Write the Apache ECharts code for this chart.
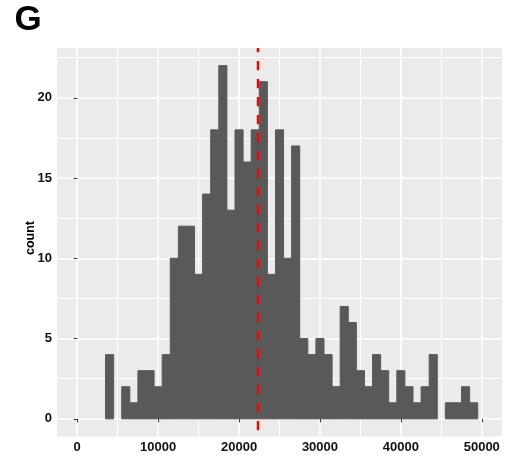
<!DOCTYPE html>
<html><head><meta charset="utf-8">
<script src="https://cdn.jsdelivr.net/npm/echarts@6/dist/echarts.min.js"></script>
<style>html,body{margin:0;padding:0;background:#fff}#c{width:514px;height:461px}</style>
</head><body><div id="c"></div>
<script>
// ---- data ----
const binCenters = [4000,5000,6000,7000,8000,9000,10000,11000,12000,13000,14000,15000,16000,17000,18000,19000,20000,21000,22000,23000,24000,25000,26000,27000,28000,29000,30000,31000,32000,33000,34000,35000,36000,37000,38000,39000,40000,41000,42000,43000,44000,45000,46000,47000,48000,49000];
const counts = [4,0,2,1,3,3,2,4,10,12,12,9,14,18,22,13,18,16,18,21,9,18,10,17,5,4,5,4,2,7,6,3,2,4,3,1,3,2,1,2,4,0,1,1,2,1];
const binWidth = 1000;
const meanValue = 22330;
const xTicks = [0,10000,20000,30000,40000,50000];
const xMinorTicks = [5000,15000,25000,35000,45000];
const yTicks = [0,5,10,15,20];
const yMinorTicks = [2.5,7.5,12.5,17.5,22.5];
const xRange = [-2500, 52500];
const yRange = [-1.1, 23.1];
const panelTitle = 'G';
const yTitle = 'count';

const chart = echarts.init(document.getElementById('c'), null, {renderer:'canvas'});
const FONT = '"Liberation Sans", Arial, sans-serif';
const histData = binCenters.map((c,i)=>[c - binWidth/2, c + binWidth/2, counts[i]]).filter(d=>d[2]>0);

function majorAxis(ticks, isX){
  return {
    type:'value',
    axisLine:{show:false},
    axisTick:{show:true, customValues:ticks, length:3.5, lineStyle:{color:'#333333', width:1}},
    axisLabel:{show:true, customValues:ticks, formatter:function(v){return String(v);}, fontFamily:FONT, fontWeight:'bold', fontSize:13, color:'#111111', margin: isX?4:5},
    splitLine:{show:true, lineStyle:{color:'#ffffff', width:1.6}}
  };
}
function minorAxis(ticks){
  return {
    type:'value',
    axisLine:{show:false},
    axisTick:{show:false, customValues:ticks},
    axisLabel:{show:false},
    splitLine:{show:true, lineStyle:{color:'#ffffff', width:1}}
  };
}
const xMaj = Object.assign(majorAxis(xTicks, true), {min:xRange[0], max:xRange[1]});
const xMin = Object.assign(minorAxis(xMinorTicks), {min:xRange[0], max:xRange[1], position:'bottom'});
const yMaj = Object.assign(majorAxis(yTicks, false), {min:yRange[0], max:yRange[1]});
const yMin = Object.assign(minorAxis(yMinorTicks), {min:yRange[0], max:yRange[1], position:'left'});

chart.setOption({
  animation:false,
  backgroundColor:'#ffffff',
  grid:{left:57, right:12, top:48, bottom:24.5, show:true, backgroundColor:'#EBEBEB', borderWidth:0, containLabel:false},
  xAxis:[xMaj, xMin],
  yAxis:[yMaj, yMin],
  graphic:[
    {type:'text', left:14.5, top:3, style:{text:panelTitle, font:'bold 35px '+FONT, fill:'#000'}},
    {type:'text', x:31, y:238, rotation:Math.PI/2, style:{text:yTitle, font:'bold 12.5px '+FONT, fill:'#000', align:'center', verticalAlign:'middle'}}
  ],
  series:[
    {
      type:'custom', xAxisIndex:0, yAxisIndex:0,
      data: histData,
      encode:{x:[0,1], y:2},
      renderItem:function(params, api){
        const p0 = api.coord([api.value(0), 0]);
        const p1 = api.coord([api.value(1), api.value(2)]);
        return {type:'rect', shape:{x:p0[0], y:p1[1], width:p1[0]-p0[0], height:p0[1]-p1[1]}, style:{fill:'#595959', stroke:'#595959', lineWidth:1}};
      }
    },
    {
      type:'line', xAxisIndex:0, yAxisIndex:0, symbol:'none', silent:true,
      data:[[meanValue, yRange[1]],[meanValue, yRange[0]]],
      lineStyle:{color:'#FF0000', width:2.3, type:[9.3,8.7], dashOffset:5.1},
      z:5
    }
  ]
});
</script>
</body></html>
